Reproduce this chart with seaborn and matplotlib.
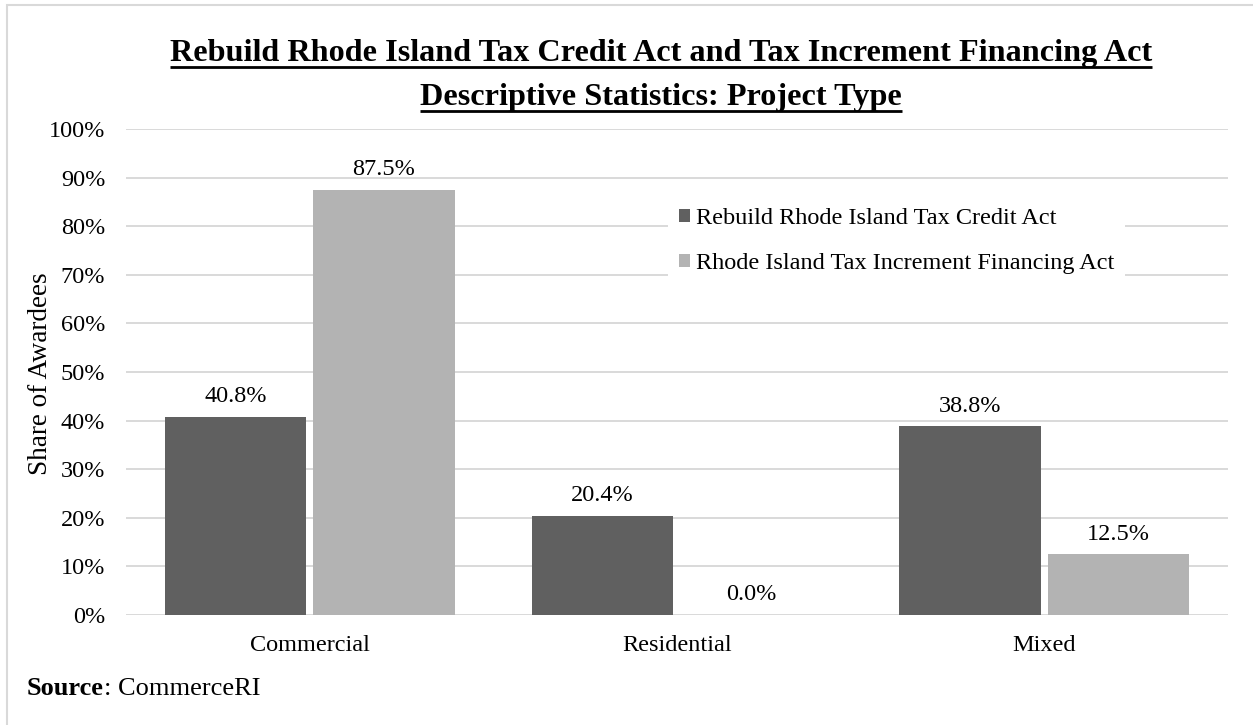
import matplotlib
matplotlib.use("Agg")
import matplotlib.pyplot as plt
import pandas as pd
import seaborn as sns
from matplotlib.lines import Line2D
from matplotlib.patches import Rectangle, Patch

# ---- data -------------------------------------------------------------
categories = ["Commercial", "Residential", "Mixed"]
series_names = [
    "Rebuild Rhode Island Tax Credit Act",
    "Rhode Island Tax Increment Financing Act",
]
rebuild_ri_share = [40.8, 20.4, 38.8]
tif_act_share = [87.5, 0.0, 12.5]
y_ticks = [0, 10, 20, 30, 40, 50, 60, 70, 80, 90, 100]
title_lines = [
    "Rebuild Rhode Island Tax Credit Act and Tax Increment Financing Act",
    "Descriptive Statistics: Project Type",
]
y_label = "Share of Awardees"
source_label = "Source"
source_text = ": CommerceRI"

# ---- style ------------------------------------------------------------
DARK = "#606060"
LIGHT = "#b3b3b3"
GRID = "#d9d9d9"
FS = 17.5
SRC_FS = 19

sns.set_theme(style="white")
plt.rcParams["font.family"] = ["Liberation Serif", "DejaVu Serif"]
plt.rcParams.update({"text.color": "black", "axes.labelcolor": "black",
                     "xtick.color": "black", "ytick.color": "black"})

df = pd.DataFrame({
    "Project Type": categories * 2,
    "Program": [series_names[0]] * len(categories) + [series_names[1]] * len(categories),
    "Share": rebuild_ri_share + tif_act_share,
})

W, H = 1253, 725
fig = plt.figure(figsize=(W / 100, H / 100), dpi=100)
fig.patch.set_facecolor("white")

# plot area in pixel terms
left_px, right_px, top_px, bottom_px = 126, 1228, 129, 615
ax = fig.add_axes([left_px / W, 1 - bottom_px / H,
                   (right_px - left_px) / W, (bottom_px - top_px) / H])

sns.barplot(data=df, x="Project Type", y="Share", hue="Program",
            hue_order=series_names, order=categories,
            palette=[DARK, LIGHT], saturation=1, width=0.81, gap=0.05,
            edgecolor="none", linewidth=0, ax=ax)

ax.set_ylim(0, 100)
ax.set_xlim(-0.5, len(categories) - 0.5)
ax.set_yticks(y_ticks)
ax.set_yticklabels([f"{t}%" for t in y_ticks])
ax.yaxis.grid(True, color=GRID, linewidth=1.4)
ax.xaxis.grid(False)
ax.set_axisbelow(True)
for s in ax.spines.values():
    s.set_visible(False)
ax.tick_params(axis="y", length=0, pad=15, labelsize=FS, labelcolor="black")
ax.tick_params(axis="x", length=0, pad=14.5, labelsize=FS, labelcolor="black")
ax.set_xlabel("")
ax.set_ylabel("")

# value labels above each bar
for container, values in zip(ax.containers, [rebuild_ri_share, tif_act_share]):
    ax.bar_label(container, labels=[f"{v:.1f}%" for v in values],
                 padding=7, fontsize=FS, color="black")

# legend
handles = [Patch(facecolor=c, edgecolor="none") for c in (DARK, LIGHT)]
leg = ax.legend(handles, series_names, loc="upper left",
                bbox_to_anchor=((668 - left_px) / (right_px - left_px), 0.86),
                frameon=True, facecolor="white", edgecolor="none", framealpha=1,
                fontsize=FS, handlelength=0.45, handleheight=0.45,
                handletextpad=0.25, labelspacing=0.98, borderpad=0.45,
                borderaxespad=0)
leg.get_frame().set_boxstyle("square", pad=0)

# y-axis title
fig.text(41 / W, 1 - 374 / H, y_label, rotation=90, ha="center", va="center",
         fontsize=19.5)

# title lines, bold and underlined
title_objs = []
for i, line in enumerate(title_lines):
    t = fig.text(661 / W, 1 - (61 + 44 * i) / H, line, ha="center",
                 va="baseline", fontsize=23.2, fontweight="bold")
    title_objs.append(t)

# source note
src_bold = fig.text(27 / W, 1 - 695 / H, source_label, ha="left",
                    va="baseline", fontsize=SRC_FS, fontweight="bold")

# outer chart border
fig.patches.append(Rectangle((7 / W, -0.05), 1.1, 1 - 5 / H + 0.05,
                             transform=fig.transFigure, fill=False,
                             edgecolor=GRID, linewidth=1.5, zorder=0))

fig.canvas.draw()
renderer = fig.canvas.get_renderer()
for i, t in enumerate(title_objs):
    bb = t.get_window_extent(renderer)
    y = (H - (61 + 44 * i) - 6) / H
    fig.add_artist(Line2D([bb.x0 / W, bb.x1 / W], [y, y],
                          transform=fig.transFigure, color="black",
                          linewidth=2.0, solid_capstyle="butt"))
bb = src_bold.get_window_extent(renderer)
fig.text(bb.x1 / W, 1 - 695 / H, source_text, ha="left", va="baseline",
         fontsize=SRC_FS)

fig.savefig("out.png", dpi=100, facecolor="white")
